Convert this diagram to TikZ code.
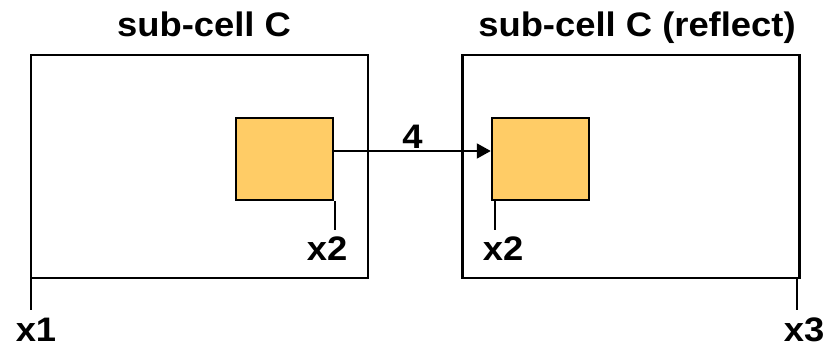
\documentclass[tikz,border=0pt]{standalone}
\usepackage{fontspec}
\setmainfont{Liberation Sans}
\usetikzlibrary{arrows.meta}
\definecolor{cellfill}{RGB}{255,204,102}

\tikzset{
  cell/.style={draw, line width=2.5pt, minimum width=337pt, minimum height=223pt, inner sep=0pt},
  subbox/.style={draw, line width=2.5pt, fill=cellfill, minimum width=97pt, minimum height=82pt, inner sep=0pt},
  lbl/.style={font=\fontsize{34}{40}\selectfont\bfseries, inner sep=0pt, anchor=base, xscale=1.07},
}

\begin{document}
\begin{tikzpicture}[x=1pt, y=-1pt, >={Triangle[length=14pt,width=15pt]}, line width=2pt]
    \useasboundingbox (0,0) rectangle (826,345);

    % the two sub-cells
    \node[cell] (cellA) at (199.5,166.5) {};
    \node[cell] (cellB) at (631,166.5) {};
    \node[lbl] (titleA) at (204,37) {sub-cell C};
    \node[lbl] (titleB) at (637,37) {sub-cell C (reflect)};

    % pins inside them
    \node[subbox] (boxA) at (284.5,159) {};
    \node[subbox] (boxB) at (540.5,159) {};

    % x positions
    \node[lbl] (xa) at (36,341) {x1};
    \node[lbl] (xb) at (327,260) {x2};
    \node[lbl] (xc) at (503,260) {x2};
    \node[lbl] (xd) at (804,341) {x3};
    \coordinate (ta) at (31,310);
    \coordinate (tb) at (335,230);
    \coordinate (tc) at (495,230);
    \coordinate (td) at (797,310);
    \draw (cellA.south west -| ta) -- (ta);
    \draw (boxA.south east -| tb) -- (tb);
    \draw (boxB.south west -| tc) -- (tc);
    \draw (cellB.south east -| td) -- (td);

    % distance
    \draw[->] ([yshift=8pt]boxA.east) -- node[lbl, anchor=base, yshift=3pt] {4} ([yshift=8pt]boxB.west);
\end{tikzpicture}
\end{document}
